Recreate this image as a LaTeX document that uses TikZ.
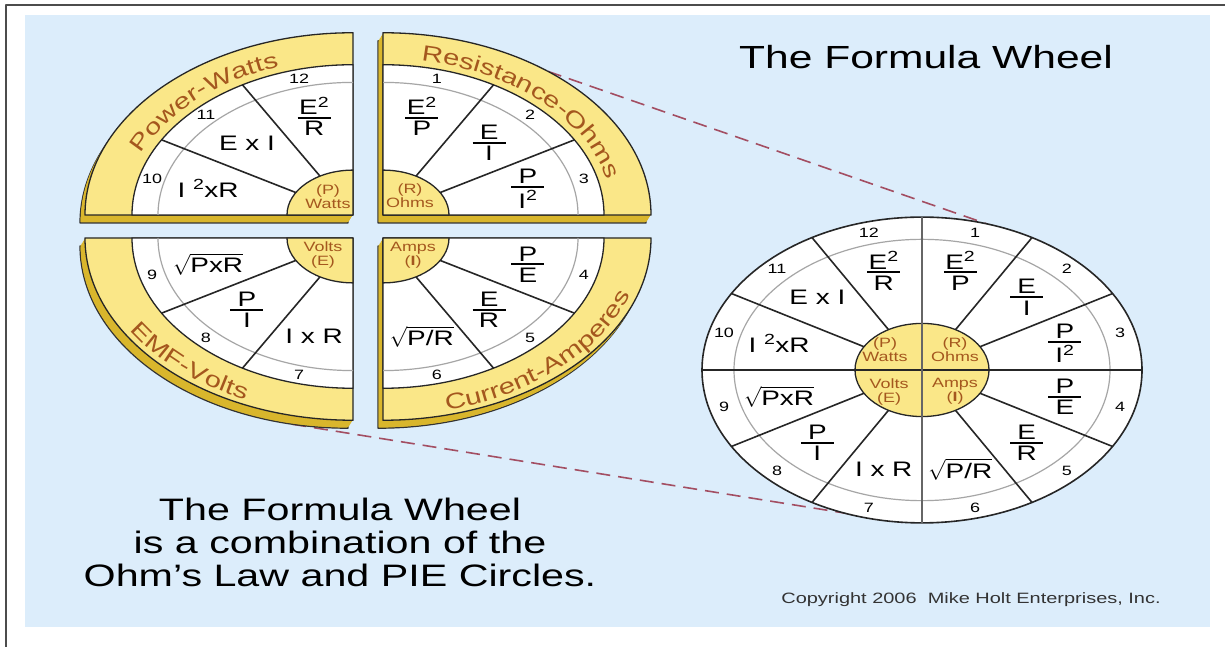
\documentclass[tikz,border=0pt]{standalone}
\usepackage{fontspec}
\usepackage{amsmath}
\setmainfont{Liberation Sans}[FakeStretch=1.33]
\usetikzlibrary{decorations.text}

\definecolor{panelblue}{HTML}{DCEDFB}
\definecolor{wheelyellow}{HTML}{FAE788}
\definecolor{slabgold}{HTML}{D9B62C}
\definecolor{rimbrown}{HTML}{A4571E}
\definecolor{linkred}{HTML}{A34E62}

\newcommand\ratio[2]{$\genfrac{}{}{2.2pt}{1}{\hbox to 33pt{\hss#1\hss}}{\hbox to 33pt{\hss#2\hss}}$}
\newcommand\radic[1]{$\sqrt{\hbox{#1}}$}
\newcommand\sq{\textsuperscript{2}}
\newcommand\rimfont{\fontsize{22}{22}\selectfont\color{rimbrown}}
% sector number / formula, clockwise from the top
\newcommand\terms{1/{\ratio{E\sq}{P}}, 2/{\ratio{E}{I}}, 3/{\ratio{P}{I\sq}},
  4/{\ratio{P}{E}}, 5/{\ratio{E}{R}}, 6/{\radic{P/R}}, 7/{I x R}, 8/{\ratio{P}{I}},
  9/{\radic{PxR}}, 10/{I \sq xR}, 11/{E x I}, 12/{\ratio{E\sq}{R}}}

\begin{document}
\begin{tikzpicture}[x=1pt, y=1pt, line join=round,
  term/.style={font=\fontsize{21}{24}\selectfont, inner sep=0pt},
  num/.style={font=\fontsize{13.5}{14}\selectfont, inner sep=0pt},
  hubtext/.style={font=\fontsize{13.5}{14}\selectfont, text=rimbrown, align=center, inner sep=0pt},
  hub/.style={fill=wheelyellow, draw=black!85, line width=1.3pt},
  spoke/.style={draw=black!85, line width=1.6pt},
  ring/.style={draw=black!35, line width=1.2pt},
  rimtext/.style={decorate, decoration={text along path, text align=center, text={|\rimfont|#1}}},
  link/.style={draw=linkred, line width=1.6pt, dash pattern=on 14pt off 8pt}]
  \useasboundingbox (0,0) rectangle (1225,647);
  \fill[panelblue] (25,20) rectangle (1210,632);
  \draw[black!70, line width=2pt] (6,0) -- (6,642) -- (1225,642);

  % Dashed lines from the exploded wheel to the small one.
  \coordinate (ohmsedge) at ([shift={(383,432)}] 52:268 and 182.2);
  \coordinate (voltsedge) at ([shift={(348,401)}] 258:268 and 182.2);
  \coordinate (wheeltop) at ([shift={(922,277)}] 73:220 and 153);
  \coordinate (wheelbottom) at ([shift={(922,277)}] 265:220 and 153);
  \draw[link] (ohmsedge) -- (wheeltop);
  \draw[link] (voltsedge) -- (wheelbottom);

  % Exploded wheel: four quadrants, each on a slab.
  \foreach \a/\cx/\cy in {90/353/432, 0/383/432, 180/353/409, 270/383/409} {
    \begin{scope}[shift={(\cx,\cy)}]
      \filldraw[fill=slabgold, draw=black!80, line width=1.2pt, shift={(-5,-8)}, yscale=0.68]
        (0,0) -- (\a:268) arc[start angle=\a, delta angle=90, radius=268] -- cycle;
      \foreach \d in {7,...,1}
        \fill[slabgold, shift={(-0.625*\d,-\d)}, yscale=0.68]
          (0,0) -- (\a:268) arc[start angle=\a, delta angle=90, radius=268] -- cycle;
      \begin{scope}[yscale=0.68]
        \filldraw[fill=wheelyellow, draw=black!85, line width=1.3pt]
          (0,0) -- (\a:268) arc[start angle=\a, delta angle=90, radius=268] -- cycle;
        \filldraw[fill=white, draw=black!85, line width=1.3pt]
          (0,0) -- (\a:221) arc[start angle=\a, delta angle=90, radius=221] -- cycle;
        \draw[ring] (\a:195) arc[start angle=\a, delta angle=90, radius=195];
        \draw[spoke] (\a+30:66) -- (\a+30:221) (\a+60:66) -- (\a+60:221);
        \filldraw[hub] (0,0) -- (\a:66) arc[start angle=\a, delta angle=90, radius=66] -- cycle;
      \end{scope}
    \end{scope}
  }
  \foreach \k/\f in \terms {
    \pgfmathsetmacro\ang{mod(465-30*\k,360)}
    \pgfmathsetmacro\cx{368+15*sign(cos(\ang))}
    \pgfmathsetmacro\cy{420.5+11.5*sign(sin(\ang))}
    \begin{scope}[shift={(\cx,\cy)}, yscale=0.68]
      \node[term] (lterm\k) at (\ang:150) {\f};
      \node[num] (lnum\k) at (\ang:208) {\k};
    \end{scope}
  }
  \node[hubtext] (lwatts) at ([shift={(353,432)}] -25,18) {(P)\\Watts};
  \node[hubtext] (lohms) at ([shift={(383,432)}] 27,19) {(R)\\Ohms};
  \node[hubtext] (lvolts) at ([shift={(353,409)}] -30,-17) {Volts\\(E)};
  \node[hubtext] (lamps) at ([shift={(383,409)}] 30,-17) {Amps\\(\textbf{I})};
  \path[rimtext=Power-Watts] ([shift={(353,432)}] 172:230 and 156.4)
    arc[start angle=172, end angle=98, x radius=230, y radius=156.4];
  \path[rimtext=Resistance-Ohms] ([shift={(383,432)}] 88:230 and 156.4)
    arc[start angle=88, end angle=2, x radius=230, y radius=156.4];
  \path[rimtext=EMF-Volts] ([shift={(353,409)}] 185:261 and 177.5)
    arc[start angle=185, end angle=265, x radius=261, y radius=177.5];
  \path[rimtext=Current-Amperes] ([shift={(383,409)}] 273:261 and 177.5)
    arc[start angle=273, end angle=357, x radius=261, y radius=177.5];

  % The formula wheel itself.
  \begin{scope}[shift={(922,277)}, yscale=0.695]
    \filldraw[fill=white, draw=black!85, line width=1.6pt] (0,0) circle[radius=220];
    \draw[ring] (0,0) circle[radius=188];
    \foreach \a in {30,60,120,150,210,240,300,330}
      \draw[spoke] (\a:67) -- (\a:220);
    \filldraw[hub] (0,0) circle[radius=67];
    \draw[spoke] (180:220) -- (0:220);
    \draw[spoke, draw=black!60] (90:220) -- (270:220);
    \foreach \k/\f in \terms {
      \node[term] (rterm\k) at ({465-30*\k}:148) {\f};
      \node[num] (rnum\k) at ({465-30*\k}:205) {\k};
    }
    \node[hubtext] (rwatts) at (-37,29) {(P)\\Watts};
    \node[hubtext] (rohms) at (33,29) {(R)\\Ohms};
    \node[hubtext] (rvolts) at (-33,-31) {Volts\\(E)};
    \node[hubtext] (ramps) at (33,-31) {Amps\\(\textbf{I})};
  \end{scope}

  \node[font=\fontsize{32}{38}\selectfont] (title) at (926,590) {The Formula Wheel};
  \node[font=\fontsize{31}{33}\selectfont, align=center] (caption) at (340,105)
    {The Formula Wheel\\is a combination of the\\Ohm’s Law and PIE Circles.};
  \node[font=\fontsize{15}{17}\selectfont, text=black!80] (copyright) at (971,47)
    {Copyright 2006\ \ Mike Holt Enterprises, Inc.};
\end{tikzpicture}
\end{document}
